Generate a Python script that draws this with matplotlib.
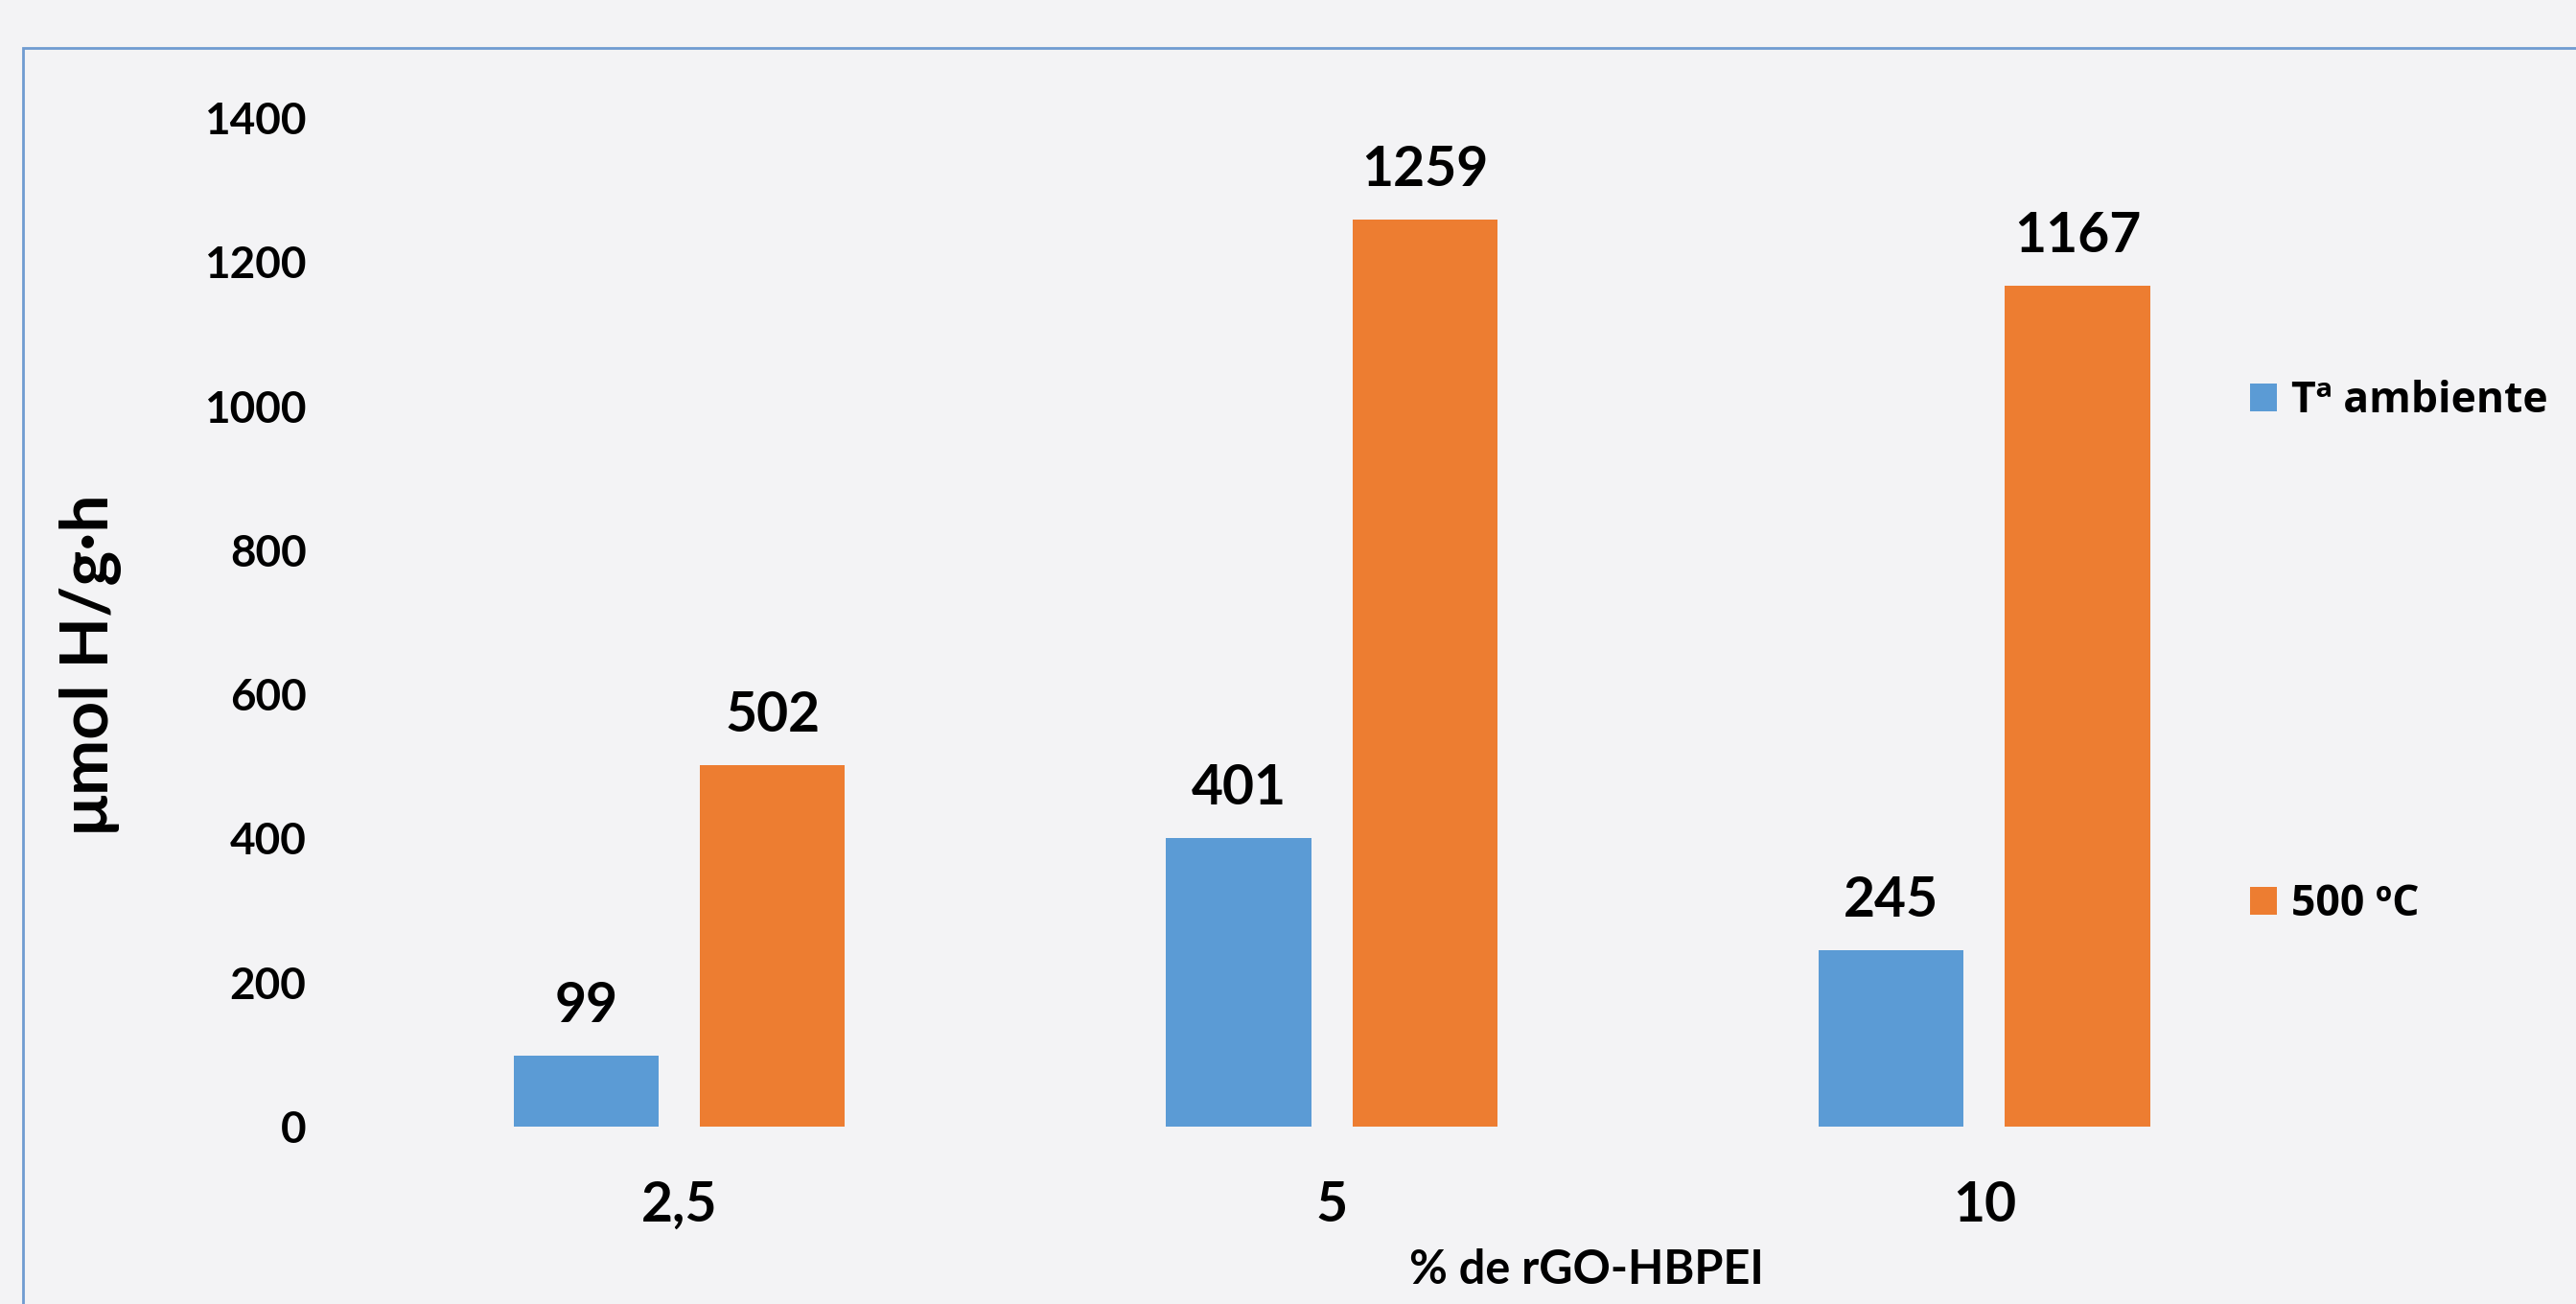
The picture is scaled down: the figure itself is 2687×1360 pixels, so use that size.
import numpy as np
import matplotlib
matplotlib.use("Agg")
import matplotlib.pyplot as plt
from matplotlib.patches import Rectangle

# datos
categorias = ["2,5", "5", "10"]
t_ambiente = [99, 401, 245]
t_500 = [502, 1259, 1167]
series = ["Tª ambiente", "500 ºC"]

azul = "#5B9BD5"
naranja = "#ED7D31"
fondo = "#f3f3f5"

plt.rcParams["font.family"] = ["Lato", "DejaVu Sans"]
plt.rcParams["font.weight"] = "bold"

fig = plt.figure(figsize=(26.87, 13.60), dpi=100, facecolor=fondo)
ax = fig.add_axes([0.137, 0.136, 0.760, 0.7736])
ax.set_facecolor("none")

x = np.arange(len(categorias))
ancho = 0.2226
desp = 0.1428

b1 = ax.bar(x - desp, t_ambiente, ancho, color=azul, label=series[0])
b2 = ax.bar(x + desp, t_500, ancho, color=naranja, label=series[1])

for barras in (b1, b2):
    ax.bar_label(barras, padding=18, fontsize=41, fontweight="bold")

ax.set_xlim(-0.5, 2.5)
ax.set_ylim(0, 1400)
ax.set_yticks(range(0, 1401, 200))
ax.set_xticks(x)
ax.set_xticklabels(categorias)
ax.tick_params(axis="y", length=0, pad=35, labelsize=33)
ax.tick_params(axis="x", length=0, pad=40, labelsize=41)
for s in ax.spines.values():
    s.set_visible(False)

fig.text(0.616, 0.026, "% de rGO-HBPEI", ha="center", va="center",
         fontsize=35, fontweight="bold")
fig.text(0.035, 0.49, "μmol H/g·h", ha="center", va="center",
         rotation=90, fontsize=50, fontweight="bold")

leg = fig.legend(handles=[b1, b2], labels=series,
                 loc="upper left", bbox_to_anchor=(0.8586, 0.738),
                 frameon=False, handlelength=0.62,
                 handleheight=0.62, handletextpad=0.35, labelspacing=10.8,
                 prop={"family": ["Open Sans", "DejaVu Sans"], "weight": "bold", "size": 32})

# borde azul del recuadro
fig.patches.append(Rectangle((0.0089, -0.1), 1.2, 1.063, transform=fig.transFigure,
                             fill=False, edgecolor="#6f9bd1", linewidth=2))

fig.savefig("out.png", dpi=100, facecolor=fondo)
